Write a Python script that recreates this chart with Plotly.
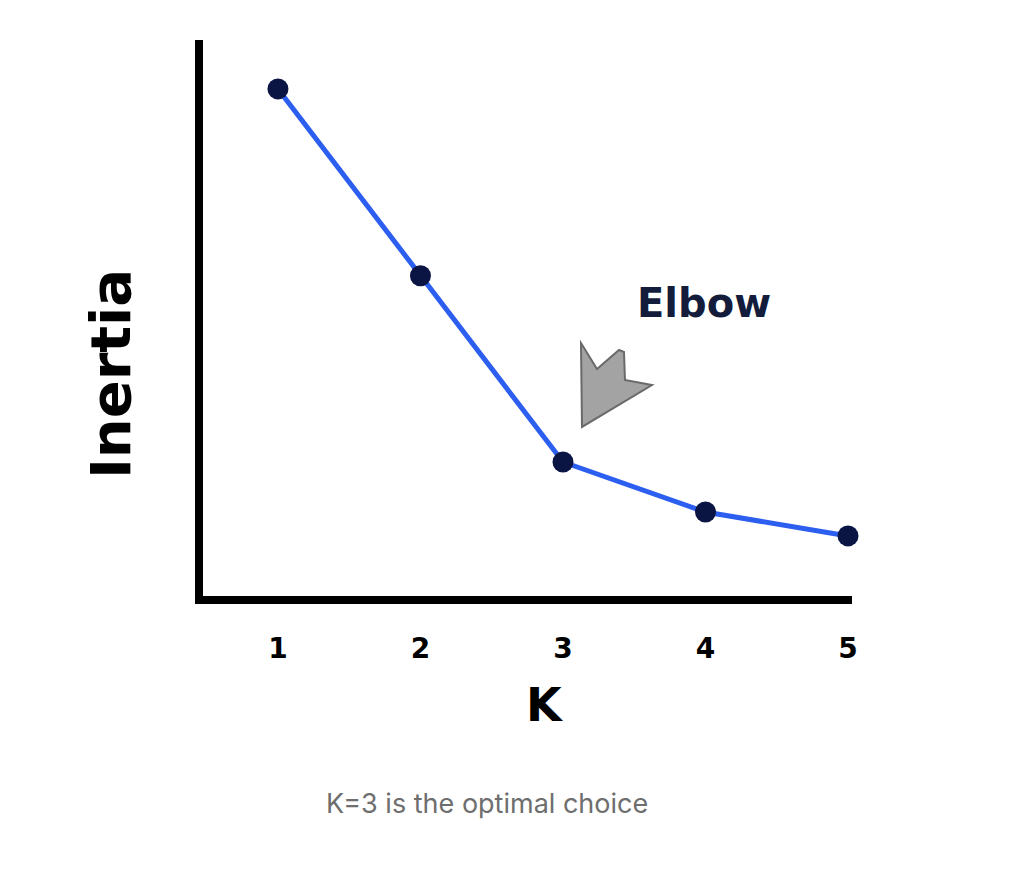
import plotly.graph_objects as go

k_values = [1, 2, 3, 4, 5]
inertia = [912, 576, 241, 151, 108]
tick_labels = ["1", "2", "3", "4", "5"]

# page body has an 8px margin; work in reference pixels and shift by OFF
OFF = 8
W, H = 1022 - OFF, 880 - OFF
L, R, T, B = 203 - OFF, 852 - OFF, 40 - OFF, 596 - OFF


def px(x):
    return (x - OFF - L) / (R - L)


def py(y):
    return (B - (y - OFF)) / (B - T)


fig = go.Figure()
fig.add_trace(go.Scatter(
    x=k_values, y=inertia, mode="lines+markers",
    line=dict(color="#2c5ef0", width=5),
    marker=dict(color="#0b1543", size=21),
    cliponaxis=False, showlegend=False, hoverinfo="x+y",
))

arrow = [(581, 343), (597, 369), (619, 350), (624, 352), (625, 380), (652, 385), (582, 427)]
path = "M " + " L ".join(f"{px(x):.4f},{py(y):.4f}" for x, y in arrow) + " Z"
fig.add_shape(type="path", xref="paper", yref="paper", path=path,
              fillcolor="#a3a3a3", line=dict(color="#6a6a6a", width=2))

common = dict(xref="paper", yref="paper", showarrow=False, xanchor="center", yanchor="middle")
fig.add_annotation(text="Elbow", x=px(704), y=py(303), **common,
                   font=dict(family="DejaVu Sans", size=40, color="#141c3c", weight="bold"))
fig.add_annotation(text="Inertia", x=px(110), y=py(374), textangle=-90, **common,
                   font=dict(family="DejaVu Sans", size=56, color="#000000", weight="bold"))
fig.add_annotation(text="K", x=px(545), y=py(705), **common,
                   font=dict(family="DejaVu Sans", size=46, color="#000000", weight="bold"))
fig.add_annotation(text="K=3 is the optimal choice", x=px(487), y=py(803), **common,
                   font=dict(family="Inter", size=27, color="#6e6e6e"))

fig.update_layout(
    width=W, height=H, autosize=False,
    margin=dict(l=L, r=W - R, t=T, b=H - B),
    paper_bgcolor="white", plot_bgcolor="white",
    xaxis=dict(range=[0.474, 5.028], tickvals=k_values, ticktext=tick_labels,
               showgrid=False, zeroline=False, showline=True, linecolor="black", linewidth=8,
               ticks="", ticklabelstandoff=20,
               tickfont=dict(family="DejaVu Sans", size=28, color="black", weight="bold")),
    yaxis=dict(range=[0, 1000], showgrid=False, zeroline=False, showline=True,
               linecolor="black", linewidth=8, showticklabels=False, ticks=""),
)

fig.write_html("out.html")
